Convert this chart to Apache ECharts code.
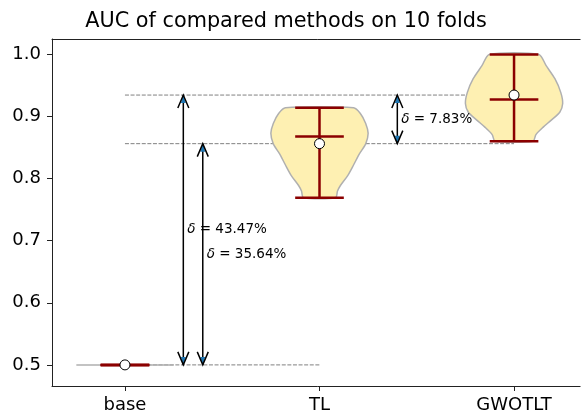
<!DOCTYPE html>
<html><head><meta charset="utf-8">
<script src="https://cdn.jsdelivr.net/npm/echarts@6/dist/echarts.min.js"></script>
<style>html,body{margin:0;padding:0;background:#fff}#c{width:583px;height:416px}</style>
</head><body><div id="c"></div>
<script>
// ---- data ----
const categories = ['base', 'TL', 'GWOTLT'];
const positions = [1, 2, 3];
const means = [0.5, 0.8564, 0.9347];
const medians = [0.5, 0.868, 0.9275];
const mins = [0.5, 0.7692, 0.8604];
const maxs = [0.5, 0.9142, 1.0];
// violin density profiles: value, relative half-width (0..1)
const baseProfileY = [0.5, 0.5];
const baseProfileW = [1, 1];
const tlProfileY = [0.9142, 0.905, 0.889, 0.873, 0.856, 0.840, 0.822, 0.805, 0.789, 0.780, 0.7692];
const tlProfileW = [0.70, 0.84, 0.95, 1.00, 0.95, 0.82, 0.70, 0.58, 0.43, 0.37, 0.33];
const gwProfileY = [1.0, 0.982, 0.961, 0.939, 0.921, 0.907, 0.894, 0.883, 0.871, 0.8604];
const gwProfileW = [0.51, 0.66, 0.84, 0.96, 1.00, 0.94, 0.76, 0.60, 0.45, 0.39];
const yTicks = [0.5, 0.6, 0.7, 0.8, 0.9, 1.0];
const xTicks = [1, 2, 3];
// comparisons: [arrow x, from group, to group]
const arrowX = [1.3, 1.4, 2.4];
const arrowFrom = [0, 0, 1];
const arrowTo = [2, 1, 2];
const deltaLabels = ['43.47%', '35.64%', '7.83%'];
// dashed reference lines: [level group, x start, x end]
const refGroup = [2, 1, 0];
const refStart = [1, 1, 1];
const refEnd = [3, 3, 2];

const profY = [baseProfileY, tlProfileY, gwProfileY];
const profW = [baseProfileW, tlProfileW, gwProfileW];
const FONT = 'DejaVu Sans';
const RED = '#8b0000';

const chart = echarts.init(document.getElementById('c'), null, {renderer: 'canvas'});

function violinItem(params, api) {
  const i = params.dataIndex;
  const pos = positions[i];
  const Y = profY[i], W = profW[i];
  const pts = [];
  for (let k = 0; k < Y.length; k++) pts.push(api.coord([pos - 0.25 * W[k], Y[k]]));
  for (let k = Y.length - 1; k >= 0; k--) pts.push(api.coord([pos + 0.25 * W[k], Y[k]]));
  const children = [{
    type: 'polygon', shape: {points: pts, smooth: 0.25},
    style: {fill: '#fef0b2', stroke: '#b0b0b0', lineWidth: 1.5}
  }];
  const bw = 0.125;
  const seg = (x1, y1, x2, y2) => {
    const a = api.coord([x1, y1]), b = api.coord([x2, y2]);
    return {type: 'line', shape: {x1: a[0], y1: a[1], x2: b[0], y2: b[1]},
            style: {stroke: RED, lineWidth: 2.5}};
  };
  children.push(seg(pos, mins[i], pos, maxs[i]));
  children.push(seg(pos - bw, maxs[i], pos + bw, maxs[i]));
  children.push(seg(pos - bw, mins[i], pos + bw, mins[i]));
  children.push(seg(pos - bw, medians[i], pos + bw, medians[i]));
  const m = api.coord([pos, means[i]]);
  children.push({type: 'circle', shape: {cx: m[0], cy: m[1], r: 5},
                 style: {fill: '#fff', stroke: '#000', lineWidth: 1}, z2: 10});
  return {type: 'group', children};
}

function refItem(params, api) {
  const i = params.dataIndex;
  const v = means[refGroup[i]];
  const a = api.coord([refStart[i], v]), b = api.coord([refEnd[i], v]);
  return {type: 'line', shape: {x1: a[0], y1: a[1], x2: b[0], y2: b[1]},
          style: {stroke: '#808080', lineWidth: 1, lineDash: [4, 1.6]}};
}

function head(tip, dir) { // dir = -1 pointing up, +1 pointing down
  const L = 13, H = 5.5;
  return [
    {type: 'polygon', shape: {points: [[tip[0], tip[1]], [tip[0] - 2.5, tip[1] - dir * 8], [tip[0] + 2.5, tip[1] - dir * 8]]},
     style: {fill: '#1f77b4'}},
    {type: 'polyline', shape: {points: [[tip[0] - H, tip[1] - dir * L], [tip[0], tip[1]], [tip[0] + H, tip[1] - dir * L]]},
     style: {stroke: '#000', lineWidth: 1.5, fill: null}}
  ];
}

function arrowItem(params, api) {
  const i = params.dataIndex;
  const x = arrowX[i];
  const lo = means[arrowFrom[i]], hi = means[arrowTo[i]];
  const a = api.coord([x, lo]), b = api.coord([x, hi]);
  const children = [{type: 'line', shape: {x1: a[0], y1: a[1], x2: b[0], y2: b[1]},
                     style: {stroke: '#000', lineWidth: 1.5}}];
  children.push(...head(b, -1));
  children.push(...head(a, 1));
  const t = api.coord([x + 0.02, (lo + hi) / 2]);
  children.push({type: 'text', x: t[0], y: t[1],
    style: {text: '{d|δ} = ' + deltaLabels[i],
      rich: {d: {fontFamily: FONT, fontStyle: 'italic', fontSize: 13.5, fill: '#000'}},
      fontFamily: FONT, fontSize: 13.5, fill: '#000', align: 'left', verticalAlign: 'middle'}});
  return {type: 'group', children};
}

const option = {
  animation: false,
  backgroundColor: '#fff',
  grid: {left: 52, right: -4, top: 39, bottom: 30, outerBoundsMode: 'none', containLabel: false},
  graphic: [
    {type: 'text', x: 286, y: 22,
     style: {text: 'AUC of compared methods on 10 folds', fontFamily: FONT, fontSize: 20.8,
             fill: '#000', align: 'center', verticalAlign: 'middle'}},
    {type: 'rect', shape: {x: 580.5, y: 30, width: 4, height: 365}, style: {fill: '#fff'}, z: 100}
  ],
  xAxis: [{
    type: 'value', min: 0.625, max: 3.375, position: 'bottom',
    axisLine: {show: true, onZero: false, lineStyle: {color: '#222', width: 1}},
    axisTick: {show: true, length: 5, customValues: xTicks, lineStyle: {color: '#222'}},
    axisLabel: {customValues: xTicks, formatter: v => categories[Math.round(v) - 1],
                fontFamily: FONT, fontSize: 18, color: '#000', margin: 10},
    splitLine: {show: false}
  }, {
    type: 'value', min: 0.625, max: 3.375, position: 'top',
    axisLine: {show: true, onZero: false, lineStyle: {color: '#222', width: 1}},
    axisTick: {show: false}, axisLabel: {show: false}, splitLine: {show: false}
  }],
  yAxis: {
    type: 'value', min: 0.466, max: 1.025,
    axisLine: {show: true, onZero: false, lineStyle: {color: '#222', width: 1}},
    axisTick: {show: true, length: 5, customValues: yTicks, lineStyle: {color: '#222'}},
    axisLabel: {customValues: yTicks, formatter: v => v.toFixed(1),
                fontFamily: FONT, fontSize: 18, color: '#000', margin: 11},
    splitLine: {show: false}
  },
  series: [
    {type: 'custom', renderItem: refItem, data: refGroup.map((g, i) => [i]), z: 1, silent: true},
    {type: 'custom', renderItem: violinItem, data: categories.map((c, i) => [i]), z: 2, silent: true},
    {type: 'custom', renderItem: arrowItem, data: arrowX.map((x, i) => [i]), z: 3, silent: true}
  ]
};
chart.setOption(option);
</script></body></html>
